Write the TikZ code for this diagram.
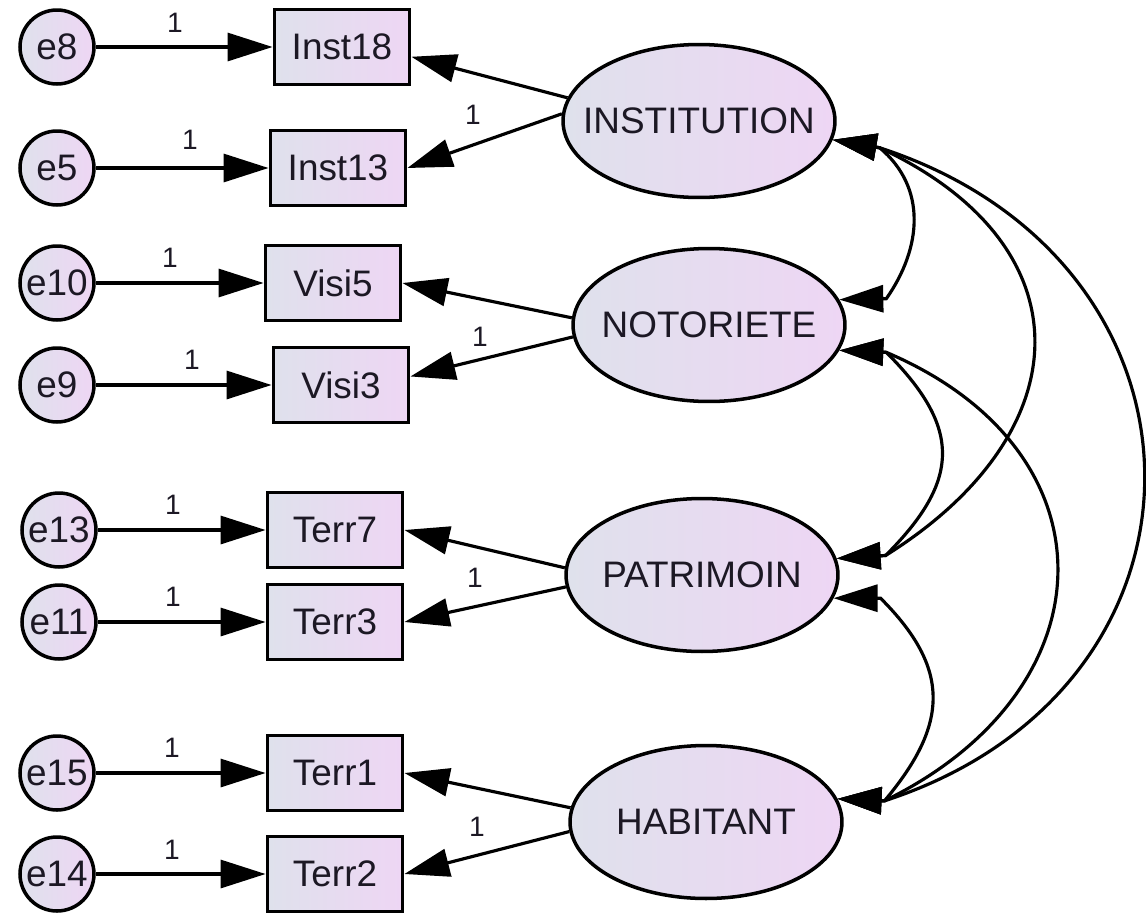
\documentclass[tikz,border=0pt]{standalone}
\usepackage{fontspec}
\setmainfont{Liberation Sans}
\usetikzlibrary{shapes.geometric,arrows.meta}
\definecolor{shadeL}{RGB}{223,225,236}
\definecolor{shadeR}{RGB}{238,214,244}
\definecolor{ink}{RGB}{28,24,36}

\begin{document}
\begin{tikzpicture}[x=0.02cm,y=0.02cm,
  obs/.style={draw=black,line width=2.2pt,rectangle,minimum width=2.7cm,minimum height=1.5cm,inner sep=0pt,left color=shadeL,right color=shadeR,text=ink,font=\fontsize{21}{25}\selectfont},
  err/.style={draw=black,line width=2pt,circle,minimum size=1.48cm,inner sep=0pt,left color=shadeL,right color=shadeR,text=ink,font=\fontsize{21}{25}\selectfont},
  lat/.style={draw=black,line width=2pt,ellipse,minimum width=5.44cm,minimum height=3.06cm,inner sep=0pt,left color=shadeL,right color=shadeR,text=ink,font=\fontsize{21}{25}\selectfont},
  arr/.style={line width=1.8pt,-{Triangle[length=0.9cm,width=0.56cm]}},
  covar/.style={line width=1.8pt,{Triangle[length=0.88cm,width=0.54cm]}-{Triangle[length=0.88cm,width=0.54cm]}},
  one/.style={text=ink,font=\fontsize{16}{18}\selectfont}]
\useasboundingbox (0,0) rectangle (1146,-913);

\node[err] (e8) at (57,-47) {e8};
\node[err] (e5) at (57,-168) {e5};
\node[err] (e10) at (57,-283) {e10};
\node[err] (e9) at (57,-385) {e9};
\node[err] (e13) at (59,-530) {e13};
\node[err] (e11) at (59,-622) {e11};
\node[err] (e15) at (57,-773) {e15};
\node[err] (e14) at (57,-874) {e14};

\node[obs] (inst18) at (342,-47) {Inst18};
\node[obs] (inst13) at (338,-168) {Inst13};
\node[obs] (visi5) at (333,-283) {Visi5};
\node[obs] (visi3) at (341,-385) {Visi3};
\node[obs] (terr7) at (335,-530) {Terr7};
\node[obs] (terr3) at (335,-622) {Terr3};
\node[obs] (terr1) at (335,-773) {Terr1};
\node[obs] (terr2) at (335,-874) {Terr2};

\node[lat] (inst) at (699,-121) {\makebox[0pt]{INSTITUTION}};
\node[lat] (noto) at (709,-325) {\makebox[0pt]{NOTORIETE}};
\node[lat] (patr) at (702,-575) {\makebox[0pt]{PATRIMOIN}};
\node[lat] (habi) at (706,-822) {\makebox[0pt]{HABITANT}};

% backs of the covariance heads
\coordinate (ib) at ([shift={(47,-8)}]inst.-8);
\coordinate (nb1) at ([shift={(47,1)}]noto.11);
\coordinate (nb2) at ([shift={(47,-2)}]noto.-11);
\coordinate (pb1) at ([shift={(49,3)}]patr.7);
\coordinate (pb2) at ([shift={(47,0)}]patr.-10);
\coordinate (hb) at ([shift={(47,-2)}]habi.10);

\draw[arr] (e8)--(inst18);
\draw[arr] (e5)--(inst13);
\draw[arr] (e10)--(visi5);
\draw[arr] (e9)--(visi3);
\draw[arr] (e13)--(terr7);
\draw[arr] (e11)--(terr3);
\draw[arr] (e15)--(terr1);
\draw[arr] (e14)--(terr2);

\draw[arr] (inst.170)--(inst18.-8);
\draw[arr] (inst.177)--(inst13.east);
\draw[arr] (noto.177)--(visi5.east);
\draw[arr] (noto.185)--(visi3.7);
\draw[arr] (patr.177)--(terr7.east);
\draw[arr] (patr.185)--(terr3.east);
\draw[arr] (habi.174)--(terr1.east);
\draw[arr] (habi.184)--(terr2.east);

\draw[covar] (inst.-8)--(ib) to[out=-40,in=55,looseness=1.05] (nb1)--(noto.11);
\draw[covar] (inst.-8)--(ib) to[out=-25,in=32,looseness=1.45] (pb1)--(patr.7);
\draw[covar] (inst.-8)--(ib) to[out=-18,in=18,looseness=1.44] (hb)--(habi.10);
\draw[covar] (noto.-11)--(nb2) to[out=-45,in=45,looseness=1.34] (pb1)--(patr.7);
\draw[covar] (noto.-11)--(nb2) to[out=-23,in=26,looseness=1.44] (hb)--(habi.10);
\draw[covar] (patr.-10)--(pb2) to[out=-45,in=50,looseness=1.26] (hb)--(habi.10);

\node[one] (w8) at (175,-23) {1};
\node[one] (w5) at (190,-140) {1};
\node[one] (w10) at (170,-258) {1};
\node[one] (w9) at (192,-360) {1};
\node[one] (w13) at (173,-505) {1};
\node[one] (w11) at (173,-597) {1};
\node[one] (w15) at (172,-748) {1};
\node[one] (w14) at (172,-850) {1};

\node[one] (wi) at (473,-115) {1};
\node[one] (wn) at (480,-337) {1};
\node[one] (wp) at (475,-578) {1};
\node[one] (wh) at (477,-827) {1};

\end{tikzpicture}
\end{document}
